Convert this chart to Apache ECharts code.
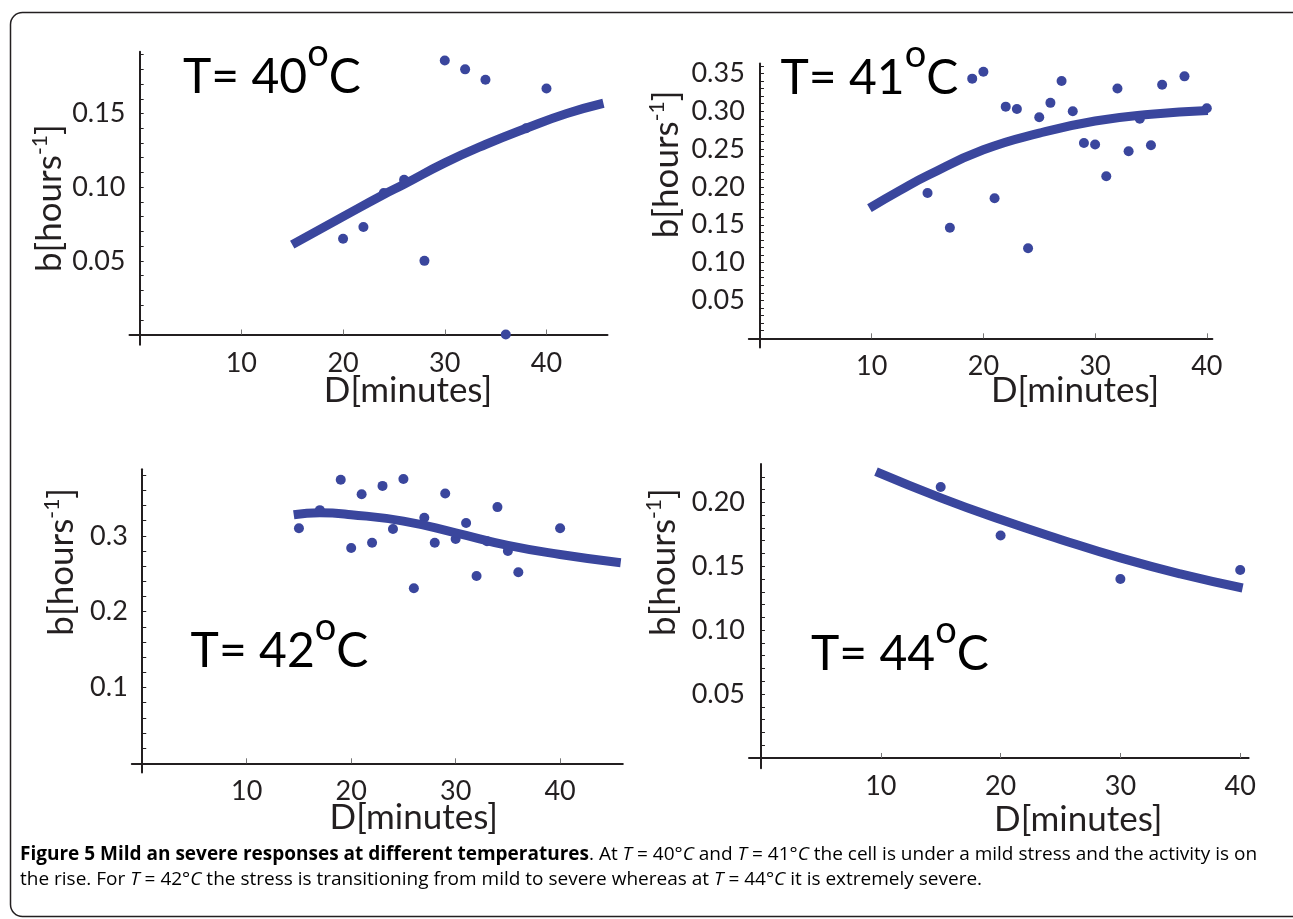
<!DOCTYPE html>
<html>
<head>
<meta charset="utf-8">
<title>Figure 5</title>
<script src="https://cdn.jsdelivr.net/npm/echarts@6/dist/echarts.min.js"></script>
<style>
  html, body { margin: 0; padding: 0; background: #fff; }
  #chart { width: 1293px; height: 919px; }
</style>
</head>
<body>
<div id="chart"></div>
<script>
// b [hours^-1] against D [minutes], one panel per temperature

const xTickValues = [10, 20, 30, 40];

// T = 40 C
const d40 = [20, 22, 24, 26, 28, 30, 32, 34, 36, 38, 40];
const b40 = [0.065, 0.073, 0.096, 0.105, 0.050, 0.186, 0.180, 0.173, 0.000, 0.140, 0.167];
const fitD40 = [15, 20, 24, 26, 30, 34, 38, 42, 45.6];
const fitB40 = [0.061, 0.080, 0.095, 0.102, 0.1165, 0.129, 0.140, 0.150, 0.157];
const yTicks40 = [0.05, 0.10, 0.15];

// T = 41 C
const d41 = [15, 17, 19, 20, 21, 22, 23, 24, 25, 26, 27, 28, 29, 30, 31, 32, 33, 34, 35, 36, 38, 40];
const b41 = [0.192, 0.146, 0.343, 0.352, 0.185, 0.306, 0.303, 0.119, 0.292, 0.311, 0.340,
             0.300, 0.258, 0.256, 0.214, 0.330, 0.247, 0.290, 0.255, 0.335, 0.346, 0.304];
const fitD41 = [9.8, 12.5, 15, 20, 25, 30, 35, 40.1];
const fitB41 = [0.172, 0.195, 0.215, 0.249, 0.271, 0.287, 0.296, 0.301];
const yTicks41 = [0.05, 0.10, 0.15, 0.20, 0.25, 0.30, 0.35];

// T = 42 C
const d42 = [15, 17, 19, 20, 21, 22, 23, 24, 25, 26, 27, 28, 29, 30, 31, 32, 33, 34, 35, 36, 40];
const b42 = [0.310, 0.334, 0.374, 0.284, 0.355, 0.291, 0.366, 0.309, 0.375, 0.231, 0.324,
             0.291, 0.356, 0.296, 0.317, 0.247, 0.293, 0.338, 0.280, 0.252, 0.310];
const fitD42 = [14.5, 17, 20, 25, 30, 35, 40, 45.8];
const fitB42 = [0.328, 0.3305, 0.328, 0.3195, 0.304, 0.2875, 0.2755, 0.2646];
const yTicks42 = [0.1, 0.2, 0.3];

// T = 44 C
const d44 = [15, 20, 30, 40];
const b44 = [0.212, 0.174, 0.140, 0.147];
const fitD44 = [9.6, 15, 20, 25, 30, 35, 40.2];
const fitB44 = [0.224, 0.2035, 0.1865, 0.171, 0.1565, 0.144, 0.133];
const yTicks44 = [0.05, 0.10, 0.15, 0.20];

const captionLine1 = '{b|Figure 5 Mild an severe responses at different temperatures}{n|. At }{i|T}{n| = 40°}{i|C}{n| and }{i|T}{n| = 41°}{i|C}{n| the cell is under a mild stress and the activity is on}';
const captionLine2 = '{n|the rise. For }{i|T}{n| = 42°}{i|C}{n| the stress is transitioning from mild to severe whereas at }{i|T}{n| = 44°}{i|C}{n| it is extremely severe.}';

const INK = '#231f20';
const BLUE = '#3a469d';
const FONT = 'Lato, "Open Sans", sans-serif';

function zip(xs, ys) {
  return xs.map((x, i) => [x, ys[i]]);
}
function steps(from, to, step) {
  const out = [];
  for (let v = from; v <= to + 1e-9; v += step) out.push(Math.round(v * 1000) / 1000);
  return out;
}

const panels = [
  { temp: '40', d: d40, b: b40, fd: fitD40, fb: fitB40, yTicks: yTicks40, yMinor: steps(0.01, 0.19, 0.01), digits: 2,
    box: [129.5, 51.7, 478, 293.1], xr: [-1, 46], yr: [-0.007, 0.192],
    title: [183, 35], yGap: 60, yShift: 0, xGap: 28, xShift: 79 },
  { temp: '41', d: d41, b: b41, fd: fitD41, fb: fitB41, yTicks: yTicks41, yMinor: steps(0.01, 0.36, 0.01), digits: 2,
    box: [748.8, 63.5, 463.6, 283.9], xr: [-1, 40.5], yr: [-0.012, 0.363],
    title: [780.5, 35.7], yGap: 62, yShift: 82, xGap: 26, xShift: 189 },
  { temp: '42', d: d42, b: b42, fd: fitD42, fb: fitB42, yTicks: yTicks42, yMinor: steps(0.02, 0.38, 0.02), digits: 1,
    box: [131.8, 469.2, 491, 303.2], xr: [-1, 46], yr: [-0.012, 0.388],
    title: [190.6, 608.4], yGap: 50, yShift: 118, xGap: 28, xShift: 73 },
  { temp: '44', d: d44, b: b44, fd: fitD44, fb: fitB44, yTicks: yTicks44, yMinor: steps(0.01, 0.22, 0.01), digits: 2,
    box: [749, 464, 499.6, 304.2], xr: [-1, 40.7], yr: [-0.008, 0.230],
    title: [811, 611.4], yGap: 65, yShift: 108, xGap: 34, xShift: 159 }
];

const grid = [], xAxis = [], yAxis = [], series = [], graphic = [];

panels.forEach((p, i) => {
  grid.push({ left: p.box[0], top: p.box[1], width: p.box[2], height: p.box[3], outerBoundsMode: 'none' });

  xAxis.push({
    type: 'value', gridIndex: i, min: p.xr[0], max: p.xr[1],
    name: 'D[minutes]', nameLocation: 'middle', nameGap: p.xGap, nameMoveOverlap: false,
    nameTextStyle: { fontFamily: FONT, fontSize: 35, color: INK, padding: [0, 0, 0, p.xShift] },
    axisLine: { onZero: true, lineStyle: { color: INK, width: 2 } },
    axisTick: { inside: true, length: 5, customValues: xTickValues, lineStyle: { color: '#777' } },
    axisLabel: { customValues: xTickValues, margin: 5, fontFamily: FONT, fontSize: 27, color: INK },
    splitLine: { show: false }
  });

  yAxis.push({
    type: 'value', gridIndex: i, min: p.yr[0], max: p.yr[1],
    name: 'b[hours{sup|-1}]', nameLocation: 'middle', nameRotate: 90, nameGap: p.yGap, nameMoveOverlap: false,
    nameTextStyle: {
      fontFamily: FONT, fontSize: 35, color: INK, lineHeight: 40, padding: [0, 0, 0, p.yShift],
      rich: { sup: { fontFamily: FONT, fontSize: 21, color: INK, lineHeight: 18, verticalAlign: 'top' } }
    },
    axisLine: { onZero: true, lineStyle: { color: INK, width: 2 } },
    axisTick: { inside: true, length: 4, customValues: p.yMinor, lineStyle: { color: INK } },
    axisLabel: {
      customValues: p.yTicks, margin: 4, fontFamily: FONT, fontSize: 27, color: INK,
      formatter: v => v.toFixed(p.digits)
    },
    splitLine: { show: false }
  });

  series.push({
    type: 'scatter', xAxisIndex: i, yAxisIndex: i, z: 2,
    symbolSize: 10, itemStyle: { color: BLUE, opacity: 1 },
    data: zip(p.d, p.b)
  });
  series.push({
    type: 'line', xAxisIndex: i, yAxisIndex: i, z: 3,
    smooth: true, showSymbol: false,
    lineStyle: { color: BLUE, width: 9 },
    data: zip(p.fd, p.fb)
  });

  graphic.push({
    type: 'text', left: p.title[0], top: p.title[1], z: 10,
    style: {
      text: '{m|T= ' + p.temp + '}{s|o}{m|C}',
      rich: {
        m: { fontFamily: FONT, fontSize: 48, color: INK, lineHeight: 86 },
        s: { fontFamily: FONT, fontSize: 38, color: INK, lineHeight: 20, verticalAlign: 'top' }
      }
    }
  });
});

const capRich = {
  b: { fontFamily: '"Open Sans", sans-serif', fontSize: 19, fontWeight: 'bold', color: '#2a2a2a' },
  n: { fontFamily: '"Open Sans", sans-serif', fontSize: 19, color: '#444' },
  i: { fontFamily: '"Open Sans", sans-serif', fontSize: 19, fontStyle: 'italic', color: '#444' }
};

graphic.push(
  {
    type: 'rect', left: 8, top: 10, z: 0, silent: true,
    shape: { width: 1310, height: 904, r: 12 },
    style: { fill: 'none', stroke: INK, lineWidth: 1.5 }
  },
  { type: 'text', x: 20, y: 855, style: { text: captionLine1, rich: capRich, verticalAlign: 'middle' } },
  { type: 'text', x: 20, y: 880, style: { text: captionLine2, rich: capRich, verticalAlign: 'middle' } }
);

const chart = echarts.init(document.getElementById('chart'), null, { renderer: 'canvas' });
chart.setOption({
  backgroundColor: '#fff',
  animation: false,
  grid: grid,
  xAxis: xAxis,
  yAxis: yAxis,
  series: series,
  graphic: graphic
});
</script>
</body>
</html>
